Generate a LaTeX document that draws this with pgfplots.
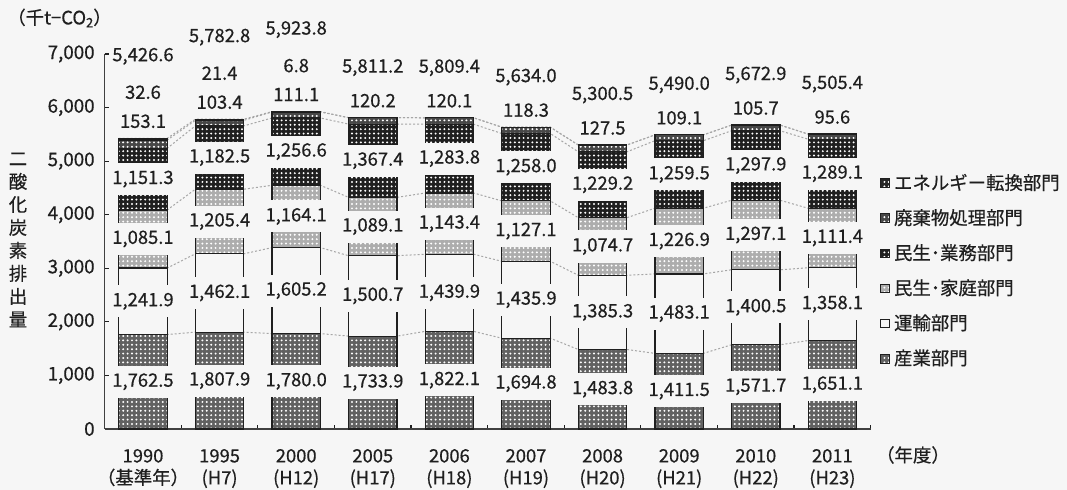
\documentclass[border=0pt]{standalone}
\usepackage{fontspec}
\setmainfont{Noto Sans CJK JP}[FakeBold=0.5]
\usepackage{pgfplots}
\pgfplotsset{compat=1.18}
\usepackage{pgfplotstable}
\usetikzlibrary{patterns.meta}
\definecolor{bg}{gray}{0.965}
\definecolor{ink}{gray}{0.12}

\pgfplotstableread{
x ind tra hou bus was ene tot
0 1762.5 1241.9 1085.1 1151.3 153.1 32.6 5426.6
1 1807.9 1462.1 1205.4 1182.5 103.4 21.4 5782.8
2 1780.0 1605.2 1164.1 1256.6 111.1 6.8 5923.8
3 1733.9 1500.7 1089.1 1367.4 120.2 0 5811.2
4 1822.1 1439.9 1143.4 1283.8 120.1 0 5809.4
5 1694.8 1435.9 1127.1 1258.0 118.3 0 5634.0
6 1483.8 1385.3 1074.7 1229.2 127.5 0 5300.5
7 1411.5 1483.1 1226.9 1259.5 109.1 0 5490.0
8 1571.7 1400.5 1297.1 1297.9 105.7 0 5672.9
9 1651.1 1358.1 1111.4 1289.1 95.6 0 5505.4
}\data
\pgfplotstablevertcat{\dbl}{\data}
\pgfplotstablevertcat{\dbl}{\data}
\pgfplotstablecreatecol[create col/expr={\thisrow{x}+((\pgfplotstablerow<10)?-0.3166:0.3166)}]{xe}{\dbl}
\pgfplotstablesort[sort key=xe]{\dbls}{\dbl}

\pgfplotsset{
  base/.style={scale only axis, width=383pt, height=187.5pt, xmin=-0.5, xmax=9.5,
    ymin=0, ymax=7000, at={(52.35pt,30.5pt)}, anchor=south west, clip=false},
  sl/.style={draw=gray!70, line width=0.5pt, dash pattern=on 1pt off 1pt, mark=none},
  dotfill/.style={fill=#1, draw=ink, line width=0.6pt,
    postaction={pattern={Dots[distance=2.2pt,radius=0.55pt]}, pattern color=white}},
  lab/.style={draw=none, mark=none, point meta=#1,
    nodes near coords={\pgfmathprintnumber[fixed,fixed zerofill,precision=1,1000 sep={,},assume math mode=true]{\pgfplotspointmeta}},
    every node near coord/.append style={anchor=center, font=\fontsize{9.2}{11}\selectfont, text=ink}},
  inlab/.style={lab=#1, every node near coord/.append style={fill=bg, inner sep=0pt,
    minimum height=16pt, minimum width=28pt}},
}

\begin{document}
\begin{tikzpicture}
\fill[bg] (0,0) rectangle (533.5pt,245pt);
\useasboundingbox (0,0) rectangle (533.5pt,245pt);

% series lines
\begin{axis}[base, hide axis, stack plots=y]
\addplot[sl] table[x=xe,y=ind]{\dbls};
\addplot[sl] table[x=xe,y=tra]{\dbls};
\addplot[sl] table[x=xe,y=hou]{\dbls};
\addplot[sl] table[x=xe,y=bus]{\dbls};
\addplot[sl] table[x=xe,y=was]{\dbls};
\addplot[sl] table[x=xe,y=ene]{\dbls};
\end{axis}

% bars
\begin{axis}[base, ybar stacked, bar width=24.25pt,
  axis x line*=bottom, axis y line*=left,
  axis line style={draw=ink!85, line width=0.6pt},
  ytick={0,1000,...,7000},
  xtick={0,...,9},
  xticklabels={{1990\\（基準年）},{1995\\(H7)},{2000\\(H12)},{2005\\(H17)},{2006\\(H18)},{2007\\(H19)},{2008\\(H20)},{2009\\(H21)},{2010\\(H22)},{2011\\(H23)}},
  minor xtick={0.5,1.5,...,9.5},
  tick align=inside,
  major tick length=2.2pt, minor tick length=2.2pt,
  tick style={ink, line width=0.6pt},
  major x tick style={draw=none},
  scaled y ticks=false,
  yticklabel style={font=\fontsize{9.4}{11}\selectfont, text=ink, xshift=-1.5pt},
  xticklabel style={align=center, font=\fontsize{9.2}{11}\selectfont, text=ink, yshift=-6.5pt},
  /pgf/number format/1000 sep={,},
  /pgf/number format/assume math mode=true,
  legend style={at={(1.012,0.692)}, anchor=north west, draw=none, fill=none,
    font=\fontsize{9.2}{11}\selectfont, row sep=4.3pt, inner sep=0pt, cells={anchor=west}, text=ink},
  legend image code/.code={\draw[#1, line width=0.5pt] (0pt,-2.2pt) rectangle (4.4pt,2.2pt);},
  reverse legend,
]
\addplot[dotfill=black!62] table[x=x,y=ind]{\data};
\addplot[fill=bg, draw=ink, line width=0.6pt] table[x=x,y=tra]{\data};
\addplot[dotfill=black!32] table[x=x,y=hou]{\data};
\addplot[dotfill=black!88] table[x=x,y=bus]{\data};
\addplot[dotfill=black!72] table[x=x,y=was]{\data};
\addplot[dotfill=black!85] table[x=x,y=ene]{\data};
\legend{産業部門,運輸部門,民生･家庭部門,民生･業務部門,廃棄物処理部門,エネルギー転換部門}
\end{axis}

% labels
\begin{axis}[base, hide axis]
\addplot[inlab=\thisrow{ind}] table[x=x, y expr=\thisrow{ind}/2]{\data};
\addplot[inlab=\thisrow{tra}] table[x=x, y expr=\thisrow{ind}+\thisrow{tra}/2]{\data};
\addplot[inlab=\thisrow{hou}] table[x=x, y expr=\thisrow{ind}+\thisrow{tra}+\thisrow{hou}/2]{\data};
\addplot[inlab=\thisrow{bus}] table[x=x, y expr=\thisrow{ind}+\thisrow{tra}+\thisrow{hou}+\thisrow{bus}/2]{\data};
\addplot[lab=\thisrow{was}, every node near coord/.append style={yshift=8.5pt}]
  table[x=x, y expr=\thisrow{ind}+\thisrow{tra}+\thisrow{hou}+\thisrow{bus}+\thisrow{was}+\thisrow{ene}]{\data};
\addplot[lab=\thisrow{ene}, skip coords between index={3}{10}, every node near coord/.append style={yshift=23pt}]
  table[x=x, y expr=\thisrow{ind}+\thisrow{tra}+\thisrow{hou}+\thisrow{bus}+\thisrow{was}+\thisrow{ene}]{\data};
\addplot[lab=\thisrow{tot}, skip coords between index={3}{10}, every node near coord/.append style={yshift=41pt}]
  table[x=x, y expr=\thisrow{ind}+\thisrow{tra}+\thisrow{hou}+\thisrow{bus}+\thisrow{was}+\thisrow{ene}]{\data};
\addplot[lab=\thisrow{tot}, skip coords between index={0}{3}, every node near coord/.append style={yshift=25pt}]
  table[x=x, y expr=\thisrow{ind}+\thisrow{tra}+\thisrow{hou}+\thisrow{bus}+\thisrow{was}+\thisrow{ene}]{\data};
\end{axis}

\node[font=\fontsize{9.2}{11.5}\selectfont, align=center, text=ink] at (9pt,125pt) {二\\酸\\化\\炭\\素\\排\\出\\量};
\node[font=\fontsize{9.2}{11}\selectfont, text=ink] at (29.75pt,236pt) {（千t−CO\raisebox{-0.3ex}{\fontsize{6.5}{7}\selectfont 2}）};
\node[font=\fontsize{9.2}{11}\selectfont, text=ink] at (456.5pt,17.5pt) {（年度）};
\end{tikzpicture}
\end{document}
